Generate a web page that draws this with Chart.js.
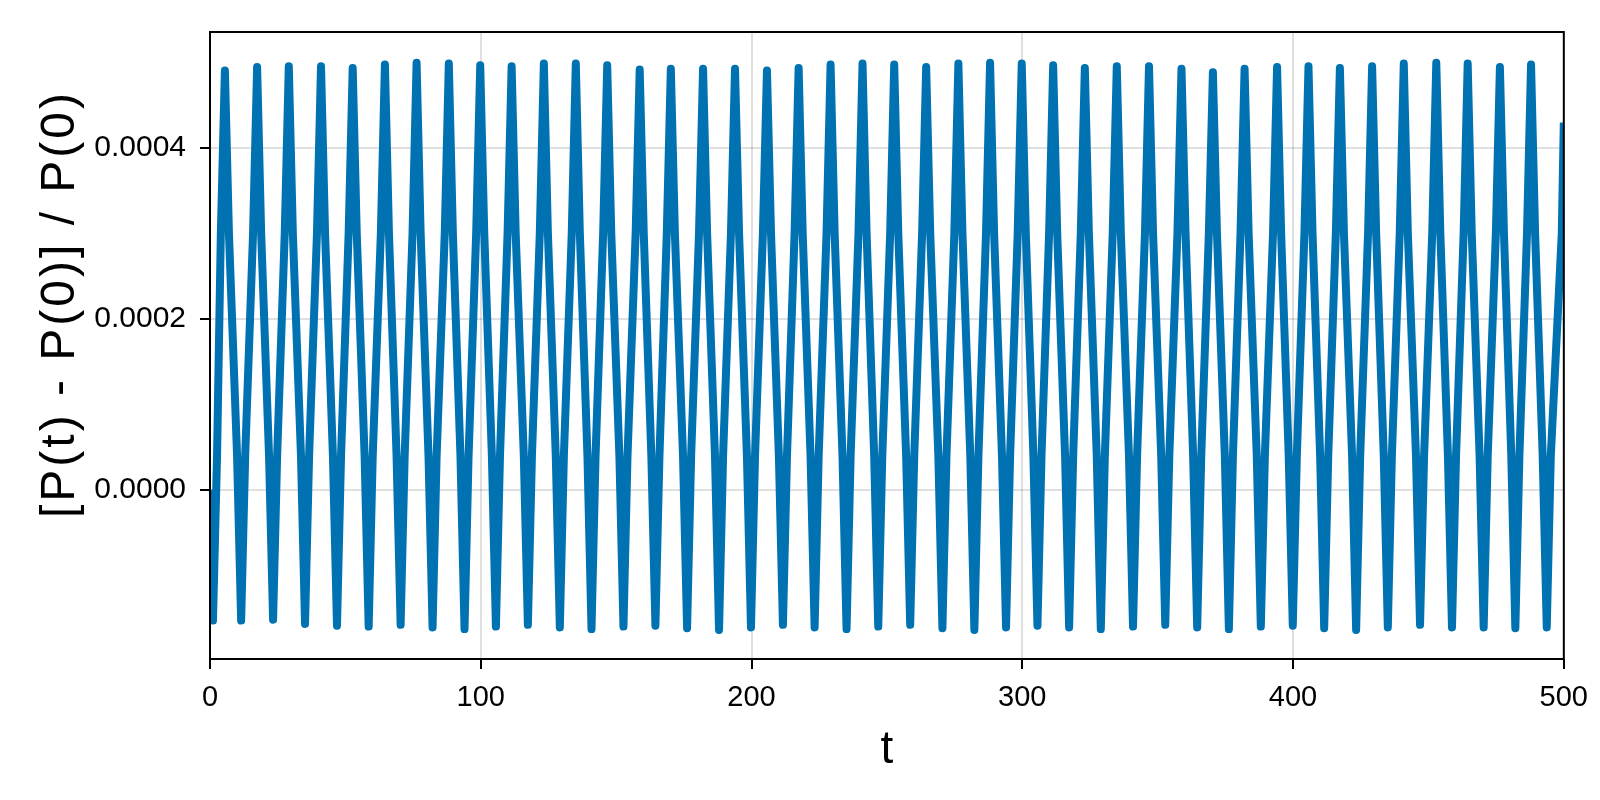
<!DOCTYPE html>
<html>
<head>
<meta charset="utf-8">
<script src="https://cdn.jsdelivr.net/npm/chart.js@4.4.1/dist/chart.umd.min.js"></script>
<style>
  html, body { margin: 0; padding: 0; background: #ffffff; }
  #wrap { width: 1600px; height: 800px; }
</style>
</head>
<body>
<div id="wrap"><canvas id="relchart" width="1600" height="800"></canvas></div>
<script>
// values ------------------------------------------------------------------
// start / end of the run
const startT = 0, startP = 0;
const endT = 500, endP = 0.00043;

// crests (t, value)
const peakT = [5.5, 17.4, 29.1, 41.0, 52.7, 64.6, 76.3, 88.2, 99.8, 111.4,
  123.3, 135.1, 146.7, 158.7, 170.2, 182.1, 193.9, 205.7, 217.4, 229.2,
  241.0, 252.7, 264.5, 276.4, 288.1, 299.8, 311.4, 323.1, 334.9, 346.8,
  358.8, 370.4, 382.1, 394.1, 405.7, 417.3, 429.2, 440.9, 452.9, 464.5,
  476.4, 487.9];
const peakP = [0.000491, 0.000495, 0.000496, 0.000496, 0.000494, 0.000498, 0.000500, 0.000499, 0.000497, 0.000496,
  0.000499, 0.000499, 0.000497, 0.000492, 0.000493, 0.000493, 0.000493, 0.000491, 0.000494, 0.000498,
  0.000499, 0.000498, 0.000495, 0.000499, 0.000500, 0.000499, 0.000497, 0.000494, 0.000496, 0.000496,
  0.000493, 0.000489, 0.000493, 0.000495, 0.000496, 0.000494, 0.000496, 0.000499, 0.000500, 0.000499,
  0.000495, 0.000498];

// dips (t, value)
const troughT = [1.1, 11.5, 23.3, 35.1, 46.9, 58.6, 70.4, 82.2, 94.0, 105.6,
  117.4, 129.2, 140.9, 152.7, 164.5, 176.2, 188.0, 199.8, 211.6, 223.3,
  235.1, 246.8, 258.6, 270.5, 282.3, 294.0, 305.6, 317.3, 329.0, 340.9,
  352.8, 364.6, 376.3, 388.1, 399.9, 411.5, 423.3, 435.0, 446.9, 458.7,
  470.4, 482.1, 493.7];
const troughP = [-0.000153, -0.000153, -0.000152, -0.000157, -0.000159, -0.000160, -0.000158, -0.000161, -0.000163, -0.000160,
  -0.000158, -0.000161, -0.000163, -0.000160, -0.000159, -0.000162, -0.000164, -0.000161, -0.000158, -0.000161,
  -0.000163, -0.000160, -0.000158, -0.000162, -0.000164, -0.000161, -0.000159, -0.000161, -0.000163, -0.000160,
  -0.000158, -0.000161, -0.000163, -0.000160, -0.000159, -0.000162, -0.000164, -0.000161, -0.000158, -0.000161,
  -0.000161, -0.000162, -0.000161];

// levels where the two flanks of a crest / a dip run together
const kneeHigh = 0.0003;
const kneeLow = 0.00004;
const kneeGap = 1.5;

// axes
const xTicks = [0, 100, 200, 300, 400, 500];
const yTicks = [0, 0.0002, 0.0004];
const yMin = -0.000198, yMax = 0.000536;
const yTitle = '[P(t) - P(0)] / P(0)';

// build the line ----------------------------------------------------------
const points = [{ x: startT, y: startP }];
troughT.forEach((tt, i) => {
  points.push({ x: tt, y: troughP[i] });
  points.push({ x: tt + kneeGap, y: kneeLow });
  if (i < peakT.length) {
    points.push({ x: peakT[i] - kneeGap, y: kneeHigh });
    points.push({ x: peakT[i], y: peakP[i] });
    points.push({ x: peakT[i] + kneeGap, y: kneeHigh });
    points.push({ x: troughT[i + 1] - kneeGap, y: kneeLow });
  }
});
points.push({ x: endT - kneeGap * 0.5, y: kneeHigh });
points.push({ x: endT, y: endP });

const FONT = "'Liberation Sans', Arial, sans-serif";

// black box round the plot area + the rotated y label
const framePlugin = {
  id: 'frame',
  afterDraw(chart) {
    const a = chart.chartArea;
    const ctx = chart.ctx;
    ctx.save();
    ctx.strokeStyle = '#000';
    ctx.lineWidth = 2;
    ctx.strokeRect(a.left, a.top, a.right - a.left, a.bottom - a.top);

    ctx.translate(61, 304);
    ctx.rotate(-Math.PI / 2);
    ctx.fillStyle = '#000';
    ctx.font = '48px ' + FONT;
    ctx.letterSpacing = '3px';
    ctx.textAlign = 'center';
    ctx.textBaseline = 'middle';
    ctx.fillText(yTitle, 0, 0);
    ctx.restore();
  }
};

const gridOpts = {
  color: 'rgba(0,0,0,0.12)',
  lineWidth: 2,
  tickColor: '#000',
  tickLength: 10,
  tickWidth: 2
};

new Chart(document.getElementById('relchart'), {
  type: 'line',
  data: {
    datasets: [{
      data: points,
      borderColor: '#0072B2',
      borderWidth: 8,
      borderJoinStyle: 'round',
      pointRadius: 0,
      tension: 0,
      clip: 0
    }]
  },
  options: {
    responsive: false,
    animation: false,
    layout: { padding: { left: 0, right: 29, top: 32, bottom: 0 } },
    plugins: {
      legend: { display: false },
      tooltip: { enabled: false }
    },
    scales: {
      x: {
        type: 'linear',
        min: 0,
        max: 500,
        afterBuildTicks: s => { s.ticks = xTicks.map(v => ({ value: v })); },
        afterFit: s => { s.height = 141; },
        grid: gridOpts,
        border: { display: false },
        ticks: {
          color: '#000',
          font: { family: FONT, size: 29 },
          padding: 12,
          maxRotation: 0,
          autoSkip: false,
          callback: v => String(v)
        },
        title: {
          display: true,
          text: 't',
          color: '#000',
          font: { family: FONT, size: 46 },
          padding: { top: 0, bottom: 22 }
        }
      },
      y: {
        type: 'linear',
        min: yMin,
        max: yMax,
        afterBuildTicks: s => { s.ticks = yTicks.map(v => ({ value: v })); },
        afterFit: s => { s.width = 210; },
        grid: gridOpts,
        border: { display: false },
        ticks: {
          color: '#000',
          font: { family: FONT, size: 30 },
          padding: 14,
          callback: v => Number(v).toFixed(4)
        },
        title: { display: false }
      }
    }
  },
  plugins: [framePlugin]
});
</script>
</body>
</html>
